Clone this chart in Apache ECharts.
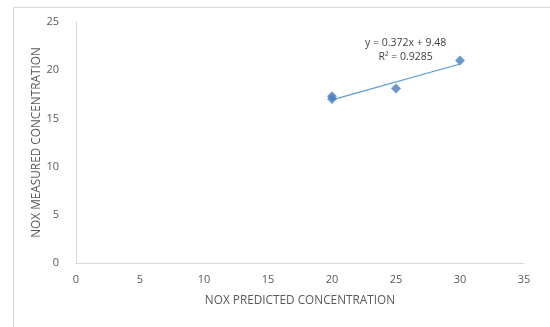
<!DOCTYPE html>
<html>
<head>
<meta charset="utf-8">
<script src="https://cdn.jsdelivr.net/npm/echarts@6/dist/echarts.min.js"></script>
<style>html,body{margin:0;padding:0;background:#fff;}#c{width:550px;height:327px;}</style>
</head>
<body>
<div id="c"></div>
<script>
var predicted = [20, 20, 25, 30];
var measured = [17.3, 17.0, 18.1, 21.0];
var trendX = [20, 30];
var trendY = [16.92, 20.64];
var eqLines = ['y = 0.372x + 9.48', 'R² = 0.9285'];
var xTicks = [0, 5, 10, 15, 20, 25, 30, 35];
var yTicks = [0, 5, 10, 15, 20, 25];

var chart = echarts.init(document.getElementById('c'), null, {renderer: 'canvas'});
var font = '"Open Sans", "Liberation Sans", sans-serif';
var pts = predicted.map(function (x, i) { return [x, measured[i]]; });
var trend = trendX.map(function (x, i) { return [x, trendY[i]]; });
chart.setOption({
  animation: false,
  backgroundColor: '#fff',
  grid: {left: 76, right: 26, top: 22, bottom: 64},
  graphic: [{
    type: 'rect', left: 11, top: 5, silent: true,
    shape: {width: 538, height: 340},
    style: {fill: 'none', stroke: '#d9d9d9', lineWidth: 1}
  }, {
    type: 'text', left: 365, top: 36,
    style: {text: eqLines.join('\n'), fill: '#404040', font: '10.5px ' + font, lineHeight: 14, textAlign: 'center', x: 32}
  }],
  xAxis: {
    type: 'value', min: xTicks[0], max: xTicks[xTicks.length - 1], interval: 5,
    name: 'NOX PREDICTED CONCENTRATION', nameLocation: 'middle', nameGap: 32,
    nameMoveOverlap: false,
    nameTextStyle: {color: '#595959', fontSize: 11.8, fontFamily: font},
    axisLine: {show: true, lineStyle: {color: '#d9d9d9'}},
    axisTick: {show: false},
    splitLine: {show: false},
    axisLabel: {color: '#595959', fontSize: 11, fontFamily: font, margin: 11}
  },
  yAxis: {
    type: 'value', min: yTicks[0], max: yTicks[yTicks.length - 1], interval: 5,
    name: 'NOX MEASURED CONCENTRATION', nameLocation: 'middle', nameGap: 33,
    nameMoveOverlap: false,
    nameTextStyle: {color: '#595959', fontSize: 11.8, fontFamily: font},
    axisLine: {show: true, lineStyle: {color: '#d9d9d9'}},
    axisTick: {show: false},
    splitLine: {show: false},
    axisLabel: {color: '#595959', fontSize: 11, fontFamily: font, margin: 17}
  },
  series: [{
    type: 'line', data: trend, symbol: 'none',
    lineStyle: {color: '#5b9bd5', width: 1.2}, z: 1
  }, {
    type: 'scatter', data: pts, symbol: 'diamond', symbolSize: 10,
    itemStyle: {color: '#4a7ebb'}, z: 2
  }]
});
</script>
</body>
</html>
